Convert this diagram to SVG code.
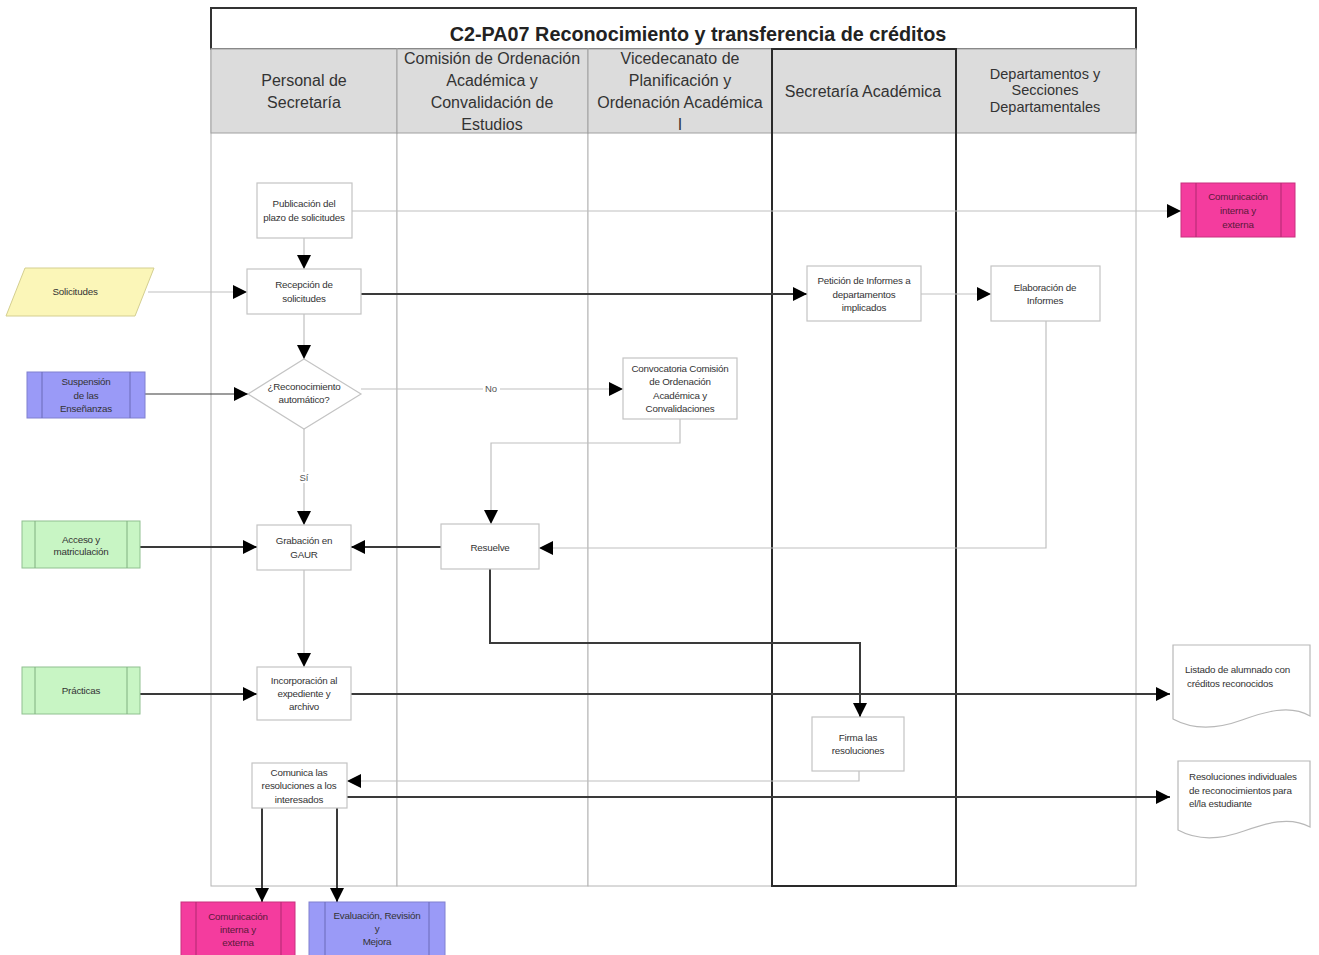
<svg xmlns="http://www.w3.org/2000/svg" width="1319" height="955" viewBox="0 0 1319 955">
  <style>
    .lane { fill: #ffffff; stroke: #b4b4b4; stroke-width: 1; }
    .hdr { fill: #dcdcdc; stroke: #a0a0a0; stroke-width: 1; }
    .hdrtxt { font-family: "Liberation Sans", Arial, sans-serif; font-size: 16px; fill: #333333; text-anchor: middle; }
    .title { font-family: "Liberation Sans", Arial, sans-serif; font-size: 19.8px; font-weight: bold; fill: #222222; text-anchor: middle; }
    .box { fill: #ffffff; stroke: #c4c4c4; stroke-width: 1.2; }
    .t { font-family: "Liberation Sans", Arial, sans-serif; font-size: 9.8px; letter-spacing: -0.2px; fill: #333333; text-anchor: middle; }
    .tl { font-family: "Liberation Sans", Arial, sans-serif; font-size: 9.8px; letter-spacing: -0.2px; fill: #333333; }
    .lbl { font-family: "Liberation Sans", Arial, sans-serif; font-size: 9.5px; fill: #555555; text-anchor: middle; }
    .thin { fill: none; stroke: #c0c0c0; stroke-width: 1.2; marker-end: url(#ah); }
    .dark { fill: none; stroke: #3a3a3a; stroke-width: 2; marker-end: url(#ah); }
    .yellow { fill: #fbf6b8; stroke: #d4cf90; stroke-width: 1; }
    .blue { fill: #9a9af7; stroke: #8080d0; stroke-width: 1; }
    .green { fill: #c8f5c4; stroke: #90c090; stroke-width: 1; }
    .pink { fill: #f43c9e; stroke: #c8307e; stroke-width: 1; }
    .sep { fill: none; stroke-width: 1; }
    .pinktxt { fill: #5a1a3a; }
    .doc { fill: #ffffff; stroke: #b8b8b8; stroke-width: 1.2; }
  </style>
  <defs>
    <marker id="ah" viewBox="0 0 10 10" refX="10" refY="5" markerWidth="14" markerHeight="14" markerUnits="userSpaceOnUse" orient="auto">
      <path d="M0,0 L10,5 L0,10 z" fill="#000000"/>
    </marker>
  </defs>

  <rect width="1319" height="955" fill="#ffffff"/>

  <!-- swimlane frame -->
  <g id="pool">
    <rect x="211" y="8" width="925" height="41" fill="#ffffff" stroke="#333333" stroke-width="2"/>
    <text class="title" x="698" y="41">C2-PA07 Reconocimiento y transferencia de créditos</text>

    <rect class="lane" x="211" y="49" width="186" height="837"/>
    <rect class="lane" x="397" y="49" width="191" height="837"/>
    <rect class="lane" x="588" y="49" width="184" height="837"/>
    <rect class="lane" x="956" y="49" width="180" height="837"/>

    <rect class="hdr" x="211" y="49" width="186" height="84"/>
    <rect class="hdr" x="397" y="49" width="191" height="84"/>
    <rect class="hdr" x="588" y="49" width="184" height="84"/>
    <rect class="hdr" x="772" y="49" width="184" height="84"/>
    <rect class="hdr" x="956" y="49" width="180" height="84"/>

    <!-- highlighted lane -->
    <rect x="772" y="49" width="184" height="837" fill="none" stroke="#2a2a2a" stroke-width="2"/>

    <text class="hdrtxt" x="304" y="86">Personal de</text>
    <text class="hdrtxt" x="304" y="108">Secretaría</text>

    <text class="hdrtxt" x="492" y="64">Comisión de Ordenación</text>
    <text class="hdrtxt" x="492" y="86">Académica y</text>
    <text class="hdrtxt" x="492" y="108">Convalidación de</text>
    <text class="hdrtxt" x="492" y="130">Estudios</text>

    <text class="hdrtxt" x="680" y="64">Vicedecanato de</text>
    <text class="hdrtxt" x="680" y="86">Planificación y</text>
    <text class="hdrtxt" x="680" y="108">Ordenación Académica</text>
    <text class="hdrtxt" x="680" y="130">I</text>

    <text class="hdrtxt" x="863" y="97">Secretaría Académica</text>

    <text class="hdrtxt" x="1045" y="79" style="font-size:14.5px">Departamentos y</text>
    <text class="hdrtxt" x="1045" y="95" style="font-size:14.5px">Secciones</text>
    <text class="hdrtxt" x="1045" y="112" style="font-size:14.5px">Departamentales</text>
  </g>

  <!-- connectors -->
  <g id="connectors">
    <path class="thin" d="M352,211 H1181"/>
    <path class="thin" d="M304,238 V269"/>
    <path class="thin" d="M148,292 H247"/>
    <path class="dark" d="M361,294 H807"/>
    <path class="thin" d="M921,294 H991"/>
    <path class="thin" d="M304,314 V359"/>
    <path class="dark" d="M145,394 H248" style="stroke-width:1.2"/>
    <path class="thin" d="M361,389 H623"/>
    <path class="thin" d="M680,419 V443 H491 V524"/>
    <path class="thin" d="M304,429 V525"/>
    <path class="dark" d="M140,547 H257"/>
    <path class="dark" d="M441,547 H351"/>
    <path class="thin" d="M1046,321 V548 H539"/>
    <path class="thin" d="M304,570 V667"/>
    <path class="dark" d="M490,569 V643 H860 V717"/>
    <path class="dark" d="M140,694 H257"/>
    <path class="dark" d="M351,694 H1170"/>
    <path class="thin" d="M859,771 V781 H347"/>
    <path class="dark" d="M347,797 H1170"/>
    <path class="dark" d="M262,808 V902"/>
    <path class="dark" d="M337,808 V902"/>
    <rect x="483" y="383" width="17" height="11" fill="#ffffff"/>
    <text class="lbl" x="491" y="392">No</text>
    <rect x="297" y="472" width="14" height="11" fill="#ffffff"/>
    <text class="lbl" x="304" y="481">Sí</text>
  </g>

  <!-- process nodes -->
  <g id="publicacion">
    <rect class="box" x="257" y="183" width="95" height="55"/>
    <text class="t" x="304" y="207">Publicación del</text>
    <text class="t" x="304" y="221">plazo de solicitudes</text>
  </g>
  <g id="recepcion">
    <rect class="box" x="247" y="269" width="114" height="45"/>
    <text class="t" x="304" y="288">Recepción de</text>
    <text class="t" x="304" y="302">solicitudes</text>
  </g>
  <g id="reconocimiento">
    <path class="box" d="M304,359 L361,394 L304,429 L248,394 Z"/>
    <text class="t" x="304" y="390">¿Reconocimiento</text>
    <text class="t" x="304" y="403">automático?</text>
  </g>
  <g id="grabacion">
    <rect class="box" x="257" y="525" width="94" height="45"/>
    <text class="t" x="304" y="544">Grabación en</text>
    <text class="t" x="304" y="558">GAUR</text>
  </g>
  <g id="incorporacion">
    <rect class="box" x="257" y="667" width="94" height="53"/>
    <text class="t" x="304" y="684">Incorporación al</text>
    <text class="t" x="304" y="697">expediente y</text>
    <text class="t" x="304" y="710">archivo</text>
  </g>
  <g id="comunica">
    <rect class="box" x="252" y="763" width="95" height="45"/>
    <text class="t" x="299" y="776">Comunica las</text>
    <text class="t" x="299" y="789">resoluciones a los</text>
    <text class="t" x="299" y="803">interesados</text>
  </g>
  <g id="resuelve">
    <rect class="box" x="441" y="524" width="98" height="45"/>
    <text class="t" x="490" y="551">Resuelve</text>
  </g>
  <g id="convocatoria">
    <rect class="box" x="623" y="358" width="114" height="61"/>
    <text class="t" x="680" y="372">Convocatoria Comisión</text>
    <text class="t" x="680" y="385">de Ordenación</text>
    <text class="t" x="680" y="399">Académica y</text>
    <text class="t" x="680" y="412">Convalidaciones</text>
  </g>
  <g id="peticion">
    <rect class="box" x="807" y="266" width="114" height="55"/>
    <text class="t" x="864" y="284">Petición de Informes a</text>
    <text class="t" x="864" y="298">departamentos</text>
    <text class="t" x="864" y="311">implicados</text>
  </g>
  <g id="elaboracion">
    <rect class="box" x="991" y="266" width="109" height="55"/>
    <text class="t" x="1045" y="291">Elaboración de</text>
    <text class="t" x="1045" y="304">Informes</text>
  </g>
  <g id="firma">
    <rect class="box" x="812" y="717" width="92" height="54"/>
    <text class="t" x="858" y="741">Firma las</text>
    <text class="t" x="858" y="754">resoluciones</text>
  </g>

  <!-- inputs and related processes -->
  <g id="solicitudes">
    <path class="yellow" d="M25,268 H154 L135,316 H6 Z"/>
    <text class="t" x="75" y="295">Solicitudes</text>
  </g>
  <g id="suspension">
    <rect class="blue" x="27" y="372" width="118" height="46"/>
    <path class="sep" stroke="#6a6ab8" d="M42,372 V418 M130,372 V418"/>
    <text class="t" x="86" y="385">Suspensión</text>
    <text class="t" x="86" y="399">de las</text>
    <text class="t" x="86" y="412">Enseñanzas</text>
  </g>
  <g id="acceso">
    <rect class="green" x="22" y="521" width="118" height="47"/>
    <path class="sep" stroke="#80b080" d="M35,521 V568 M127,521 V568"/>
    <text class="t" x="81" y="543">Acceso y</text>
    <text class="t" x="81" y="555">matriculación</text>
  </g>
  <g id="practicas">
    <rect class="green" x="22" y="667" width="118" height="47"/>
    <path class="sep" stroke="#80b080" d="M35,667 V714 M127,667 V714"/>
    <text class="t" x="81" y="694">Prácticas</text>
  </g>
  <g id="comunicacion-superior">
    <rect class="pink" x="1181" y="183" width="114" height="54"/>
    <path class="sep" stroke="#b02870" d="M1196,183 V237 M1281,183 V237"/>
    <text class="t pinktxt" x="1238" y="200">Comunicación</text>
    <text class="t pinktxt" x="1238" y="214">interna y</text>
    <text class="t pinktxt" x="1238" y="228">externa</text>
  </g>
  <g id="comunicacion-inferior">
    <rect class="pink" x="181" y="902" width="114" height="56"/>
    <path class="sep" stroke="#b02870" d="M196,902 V958 M281,902 V958"/>
    <text class="t pinktxt" x="238" y="920">Comunicación</text>
    <text class="t pinktxt" x="238" y="933">interna y</text>
    <text class="t pinktxt" x="238" y="946">externa</text>
  </g>
  <g id="evaluacion">
    <rect class="blue" x="309" y="902" width="136" height="56"/>
    <path class="sep" stroke="#6a6ab8" d="M325,902 V958 M429,902 V958"/>
    <text class="t" x="377" y="919">Evaluación, Revisión</text>
    <text class="t" x="377" y="932">y</text>
    <text class="t" x="377" y="945">Mejora</text>
  </g>

  <!-- output documents -->
  <g id="listado">
    <path class="doc" d="M1173,645 H1310 V716 C1290,704 1264,712 1242,720 C1220,728 1195,731 1173,719 Z"/>
    <text class="tl" x="1185" y="673">Listado de alumnado con</text>
    <text class="tl" x="1187" y="687">créditos reconocidos</text>
  </g>
  <g id="resoluciones">
    <path class="doc" d="M1178,761 H1310 V827 C1290,816 1266,823 1244,831 C1222,839 1198,841 1178,830 Z"/>
    <text class="tl" x="1189" y="780">Resoluciones individuales</text>
    <text class="tl" x="1189" y="794">de reconocimientos para</text>
    <text class="tl" x="1189" y="807">el/la estudiante</text>
  </g>
</svg>
